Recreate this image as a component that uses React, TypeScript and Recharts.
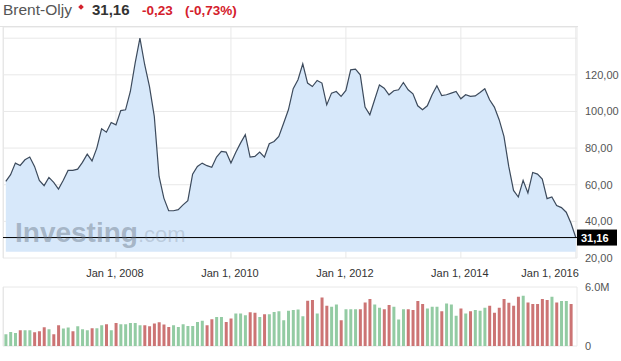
import React from 'react';
import {
  ComposedChart,
  Area,
  BarChart,
  Bar,
  Cell,
  XAxis,
  YAxis,
  CartesianGrid,
  ReferenceLine,
} from 'recharts';

// monthly Brent close, Feb 2006 .. Jan 2016
const price = [
  61.8, 65.5, 71.8, 70.5, 73.6, 75.1, 70.0, 62.4, 59.5, 64.0,
  61.3, 57.6, 62.4, 67.8, 67.8, 68.5, 72.2, 76.7, 73.0, 80.0,
  90.5, 88.7, 94.0, 92.7, 100.5, 100.9, 110.9, 126.4, 140.0, 125.5,
  113.6, 97.3, 64.5, 52.7, 45.8, 45.8, 46.4, 49.0, 51.3, 65.8,
  70.0, 71.8, 70.4, 69.5, 75.1, 78.2, 77.8, 71.8, 77.6, 82.7,
  87.3, 75.1, 75.5, 77.8, 75.1, 82.4, 83.6, 86.4, 93.6, 100.9,
  112.4, 117.3, 126.0, 115.5, 113.6, 116.9, 115.5, 103.6, 110.0, 110.9,
  108.2, 111.5, 122.7, 123.1, 120.0, 102.4, 98.2, 106.4, 114.5, 112.7,
  109.1, 111.3, 111.8, 115.8, 111.8, 109.6, 103.1, 100.9, 103.1, 109.1,
  114.0, 108.7, 109.1, 110.0, 110.9, 106.9, 109.1, 108.2, 108.5, 110.4,
  112.4, 106.4, 102.4, 95.5, 86.4, 70.0, 56.9, 53.3, 62.4, 55.5,
  66.7, 65.8, 63.1, 52.4, 53.3, 48.7, 47.5, 45.0, 39.0, 31.16,
];

// volume in millions
const volume = [
  1.19, 1.43, 1.33, 1.6, 1.6, 1.6, 1.4, 1.5, 1.91, 1.7,
  1.19, 2.11, 1.77, 1.87, 1.5, 2.01, 1.7, 1.6, 1.81, 1.81,
  2.11, 2.21, 1.6, 2.35, 2.21, 2.21, 2.35, 2.35, 2.11, 2.11,
  2.01, 2.28, 2.42, 2.18, 1.94, 2.11, 1.94, 2.21, 2.04, 2.04,
  2.45, 2.56, 2.11, 2.73, 2.96, 2.96, 2.45, 2.79, 3.3, 3.3,
  3.13, 3.44, 3.37, 2.96, 3.24, 3.24, 3.47, 3.54, 2.62, 3.58,
  3.65, 3.71, 3.03, 4.6, 4.67, 3.3, 4.94, 4.09, 3.99, 4.22,
  2.62, 3.75, 3.75, 3.75, 3.75, 4.43, 4.77, 4.22, 3.88, 3.75,
  4.16, 3.99, 2.69, 3.75, 3.75, 3.65, 4.57, 4.26, 3.82, 3.99,
  3.99, 3.54, 4.33, 4.22, 3.07, 3.82, 3.3, 3.54, 3.65, 3.58,
  3.88, 4.09, 3.37, 3.88, 4.77, 4.4, 4.09, 5.01, 5.11, 4.43,
  4.26, 4.26, 4.77, 4.67, 5.01, 4.43, 4.57, 4.57, 4.26, null,
];

// u = up month (green), d = down month (red)
const volumeDir = [
  'u', 'u', 'u', 'd', 'u', 'u', 'd', 'd', 'd', 'u',
  'd', 'd', 'u', 'u', 'd', 'u', 'u', 'u', 'd', 'u',
  'u', 'd', 'u', 'd', 'u', 'u', 'u', 'u', 'u', 'd',
  'd', 'd', 'd', 'd', 'd', 'u', 'u', 'u', 'u', 'u',
  'u', 'u', 'd', 'd', 'u', 'u', 'd', 'd', 'u', 'u',
  'u', 'd', 'd', 'u', 'd', 'u', 'u', 'u', 'u', 'u',
  'u', 'u', 'u', 'd', 'd', 'u', 'd', 'd', 'u', 'u',
  'd', 'u', 'u', 'u', 'd', 'd', 'd', 'u', 'u', 'd',
  'd', 'u', 'u', 'u', 'd', 'd', 'd', 'd', 'u', 'u',
  'u', 'd', 'u', 'u', 'u', 'd', 'u', 'd', 'u', 'u',
  'u', 'd', 'd', 'd', 'd', 'd', 'd', 'd', 'u', 'd',
  'd', 'd', 'd', 'd', 'u', 'd', 'u', 'u', 'd', 'd',
];

const xTicks = [23, 47, 71, 95, 119];
const xTickLabels = ['Jan 1, 2008', 'Jan 1, 2010', 'Jan 1, 2012', 'Jan 1, 2014', 'Jan 1, 2016'];
const priceTicks = [20, 40, 60, 80, 100, 120, 140];
const volumeTicks = [0, 6000000];
const lastPrice = 31.16;

const rows = price.map((p, i) => ({
  i,
  price: p,
  volume: volume[i] == null ? null : (volume[i] as number) * 1e6,
  dir: volumeDir[i],
}));

const FONT = 'Arial, "Liberation Sans", sans-serif';
const X_DOMAIN: [number, number] = [-0.585, 119.25];

const fmtPrice = (v: number) => (v === 140 ? '' : v.toFixed(2).replace('.', ','));
const fmtVol = (v: number) => (v === 0 ? '0' : (v / 1e6).toFixed(1) + 'M');

const XTick = ({ x, y, payload }: any) => {
  const idx = xTicks.indexOf(payload.value);
  const last = idx === xTicks.length - 1;
  return (
    <text
      x={last ? x + 3 : x - 1}
      y={y}
      dy="0.71em"
      textAnchor={last ? 'end' : 'middle'}
      fontSize={11}
      fontFamily={FONT}
      fill="#333"
    >
      {xTickLabels[idx]}
    </text>
  );
};

const PriceLabel = (props: any) => {
  const vb = props.viewBox || {};
  const x = vb.x + vb.width;
  const y = vb.y;
  return (
    <g>
      <rect x={x} y={y - 8} width={40} height={16} fill="#000" />
      <text x={x + 4} y={y + 4} fontSize={11} fontWeight="bold" fontFamily={FONT} fill="#fff">
        {lastPrice.toFixed(2).replace('.', ',')}
      </text>
    </g>
  );
};

export default function App() {
  return (
    <div
      style={{
        position: 'absolute',
        left: 0,
        top: 0,
        width: 621,
        height: 361,
        background: '#fff',
        fontFamily: FONT,
        overflow: 'hidden',
      }}
    >
      {/* header */}
      <div style={{ position: 'absolute', left: 3, top: 1, fontSize: 15.5, color: '#555', whiteSpace: 'nowrap' }}>
        Brent-Oljy
      </div>
      <div
        style={{
          position: 'absolute',
          left: 79,
          top: 5,
          width: 4,
          height: 4,
          background: '#d4202c',
          transform: 'rotate(45deg)',
        }}
      />
      <div style={{ position: 'absolute', left: 92, top: 1, fontSize: 15, fontWeight: 'bold', color: '#333' }}>
        31,16
      </div>
      <div style={{ position: 'absolute', left: 142, top: 3, fontSize: 13.5, fontWeight: 'bold', color: '#d4202c' }}>
        -0,23
      </div>
      <div style={{ position: 'absolute', left: 185, top: 3, fontSize: 13.5, fontWeight: 'bold', color: '#d4202c' }}>
        (-0,73%)
      </div>
      <div style={{ position: 'absolute', left: 0, top: 26, width: 578, height: 1, background: '#e2e2e2' }} />
      <div style={{ position: 'absolute', left: 3, top: 27, width: 1, height: 231, background: '#e6e6e6' }} />
      <div style={{ position: 'absolute', left: 3, top: 287, width: 1, height: 59, background: '#e6e6e6' }} />

      {/* price panel */}
      <div style={{ position: 'absolute', left: 0, top: 27 }}>
        <ComposedChart width={621} height={260} data={rows} margin={{ top: 0, right: 0, left: 3, bottom: 0 }}>
          <CartesianGrid stroke="#e8e8e8" />
          <XAxis
            dataKey="i"
            type="number"
            domain={X_DOMAIN}
            ticks={xTicks}
            allowDataOverflow
            axisLine={false}
            tickLine={false}
            tickMargin={5}
            height={29}
            interval={0}
            tick={<XTick />}
          />
          <YAxis
            orientation="right"
            type="number"
            domain={[20, 146.1]}
            ticks={priceTicks}
            allowDataOverflow
            width={44}
            axisLine={false}
            tickLine={false}
            interval={0}
            tickFormatter={fmtPrice}
            tick={{ fontSize: 11, fill: '#555', fontFamily: FONT }}
          />
          <Area
            type="linear"
            dataKey="price"
            stroke="#3c4a5c"
            strokeWidth={1.2}
            fill="#d7e8fa"
            fillOpacity={1}
            baseValue={23.4}
            dot={false}
            activeDot={false}
            isAnimationActive={false}
          />
          <ReferenceLine y={lastPrice} stroke="#000" strokeWidth={1} label={PriceLabel} />
        </ComposedChart>
      </div>

      {/* watermark */}
      <div
        style={{
          position: 'absolute',
          left: 15,
          top: 217,
          whiteSpace: 'nowrap',
          pointerEvents: 'none',
          lineHeight: '32px',
        }}
      >
        <span style={{ fontSize: 28, fontWeight: 'bold', color: 'rgba(105,118,135,0.45)' }}>Investing</span>
        <span style={{ fontSize: 22, color: 'rgba(105,118,135,0.25)' }}>.com</span>
      </div>

      {/* volume panel */}
      <div style={{ position: 'absolute', left: 0, top: 281 }}>
        <BarChart width={621} height={76} data={rows} margin={{ top: 6, right: 0, left: 3, bottom: 7 }}>
          <CartesianGrid stroke="#e8e8e8" />
          <XAxis
            dataKey="i"
            type="number"
            domain={X_DOMAIN}
            ticks={xTicks}
            allowDataOverflow
            axisLine={false}
            tickLine={false}
            tick={false}
            height={4}
          />
          <YAxis
            orientation="right"
            type="number"
            domain={[0, 6000000]}
            ticks={volumeTicks}
            width={44}
            axisLine={false}
            tickLine={false}
            interval={0}
            tickFormatter={fmtVol}
            tick={{ fontSize: 11, fill: '#555', fontFamily: FONT }}
          />
          <Bar dataKey="volume" barSize={3} isAnimationActive={false}>
            {rows.map((r) => (
              <Cell key={`v-${r.i}`} fill={r.dir === 'u' ? '#93cba3' : '#cc7474'} />
            ))}
          </Bar>
        </BarChart>
      </div>
    </div>
  );
}
